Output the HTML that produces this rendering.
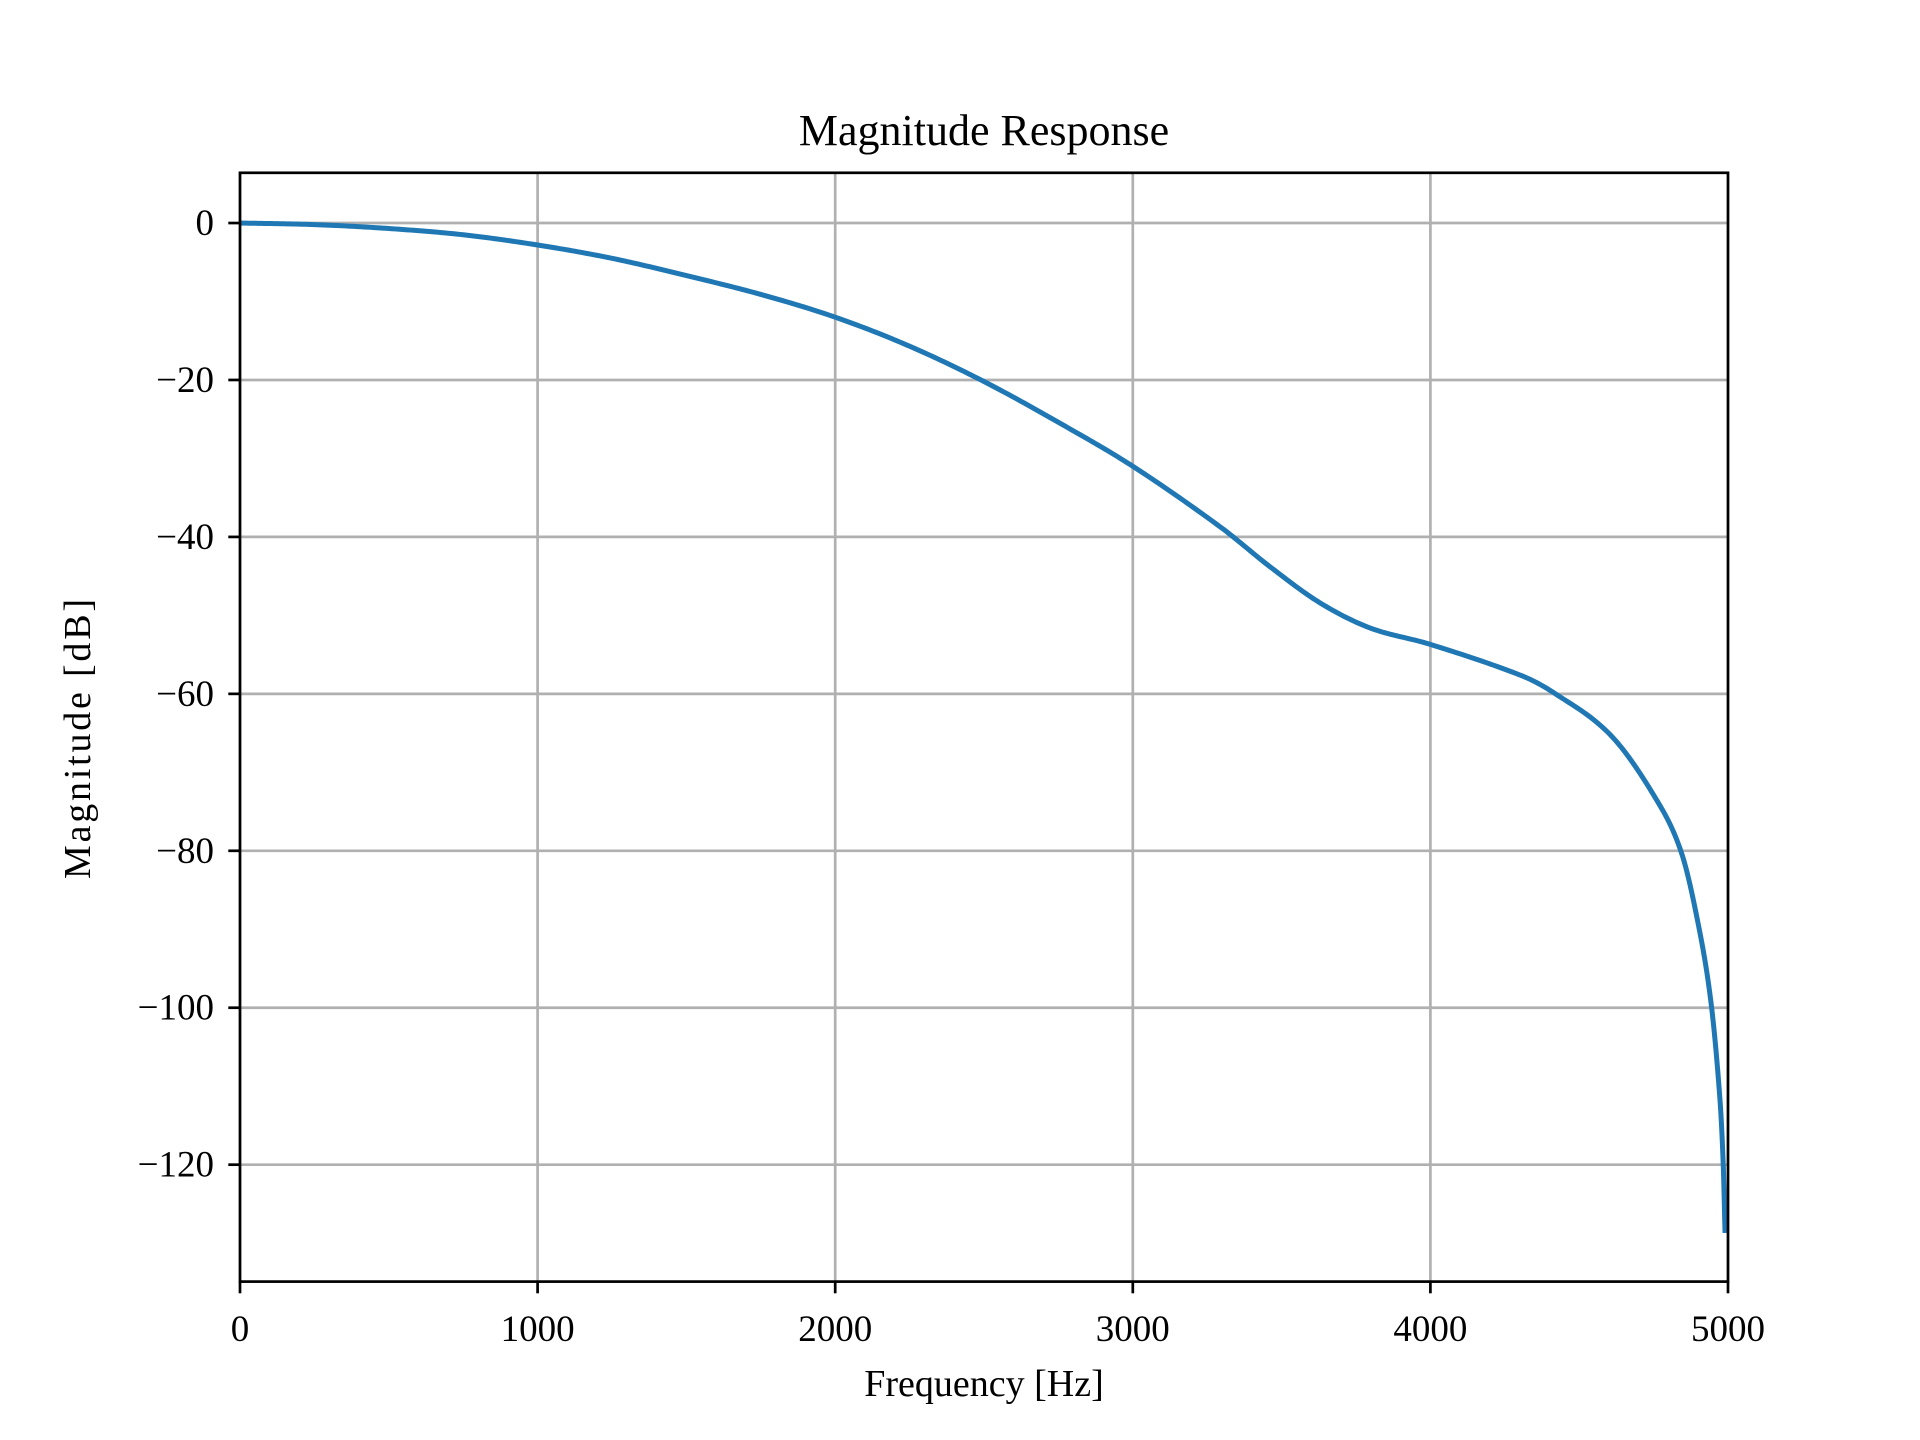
<!DOCTYPE html>
<html><head><meta charset="utf-8"><style>
html,body{margin:0;padding:0;background:#fff;}
svg{display:block;font-family:"Liberation Serif",serif;}
</style></head><body>
<svg id="chart" width="1920" height="1440" viewBox="0 0 1920 1440">
<rect width="1920" height="1440" fill="#fff"/>
<g id="grid"></g>
<g id="series"></g>
<rect x="240" y="172.8" width="1488" height="1108.8" fill="none" stroke="#000" stroke-width="2.7"/>
<g id="ticks"></g>
<text x="984" y="145" font-size="44" text-anchor="middle">Magnitude Response</text>
<text x="984" y="1396" font-size="38" text-anchor="middle">Frequency [Hz]</text>
<text x="0" y="0" font-size="38" text-anchor="middle" textLength="280" transform="translate(90,739) rotate(-90)">Magnitude [dB]</text>
</svg>
<script>
const xTicks = [0, 1000, 2000, 3000, 4000, 5000];
const yTicks = [0, -20, -40, -60, -80, -100, -120];
const freqs = [0, 250, 500, 750, 1000, 1250, 1500, 1750, 2000, 2250, 2500, 2750, 3000, 3293, 3461, 3629, 3797, 4000, 4301, 4412, 4604, 4755, 4844, 4906, 4945, 4973, 4984, 4990];
const mags = [0, -0.2, -0.7, -1.5, -2.8, -4.5, -6.7, -9.1, -12, -15.7, -20.2, -25.4, -31, -38.7, -43.8, -48.4, -51.6, -53.7, -57.6, -59.8, -65.2, -73.2, -80.3, -90.5, -100, -111.7, -120, -128.7];

const L=240,R=1728,T=172.8,B=1281.6;
const xMin=0,xMax=5000,yMin=-134.9,yMax=6.4;
const sx=v=>L+(v-xMin)/(xMax-xMin)*(R-L);
const sy=v=>T+(yMax-v)/(yMax-yMin)*(B-T);
const NS='http://www.w3.org/2000/svg';
const grid=document.getElementById('grid'),ticks=document.getElementById('ticks'),series=document.getElementById('series');
function mk(tag,attrs,parent){const e=document.createElementNS(NS,tag);for(const k in attrs)e.setAttribute(k,attrs[k]);parent.appendChild(e);return e;}
xTicks.forEach(v=>{
  const x=sx(v);
  const g=mk('line',{x1:x,x2:x,y1:T,y2:B,stroke:'#b0b0b0','stroke-width':2.7},grid);
  
  
  const t=mk('line',{x1:x,x2:x,y1:B,y2:B+11.7,stroke:'#000','stroke-width':2.7},ticks);
  
  
  const l=mk('text',{x:x,y:1341,'font-size':37,'text-anchor':'middle'},ticks);
  l.textContent=String(v);
  
  
});
yTicks.forEach(v=>{
  const y=sy(v);
  const g=mk('line',{x1:L,x2:R,y1:y,y2:y,stroke:'#b0b0b0','stroke-width':2.7},grid);
  
  
  const t=mk('line',{x1:L-11.7,x2:L,y1:y,y2:y,stroke:'#000','stroke-width':2.7},ticks);
  
  
  const l=mk('text',{x:214,y:y+12,'font-size':37,'text-anchor':'end'},ticks);
  l.textContent=v<0?'\u2212'+Math.abs(v):String(v);
  
  
});
// cubic Hermite interpolation with central-difference tangents, in data space
const n=freqs.length;
const m=new Array(n);
for(let i=0;i<n;i++){
  const a=Math.max(0,i-1),b=Math.min(n-1,i+1);
  m[i]=(mags[b]-mags[a])/(freqs[b]-freqs[a]);
}
let d='';
for(let i=0;i<n-1;i++){
  const steps=24,h=freqs[i+1]-freqs[i];
  for(let k=0;k<=steps;k++){
    if(i>0&&k===0)continue;
    const t=k/steps;
    const h00=2*t*t*t-3*t*t+1,h10=t*t*t-2*t*t+t,h01=-2*t*t*t+3*t*t,h11=t*t*t-t*t;
    const f=freqs[i]+t*h;
    const y=h00*mags[i]+h10*h*m[i]+h01*mags[i+1]+h11*h*m[i+1];
    d+=(d?' L':'M')+sx(f).toFixed(2)+','+sy(y).toFixed(2);
  }
}
const line=mk('path',{d:d,fill:'none',stroke:'#1f77b4','stroke-width':5,'stroke-linejoin':'round'},series);


</script>
</body></html>
